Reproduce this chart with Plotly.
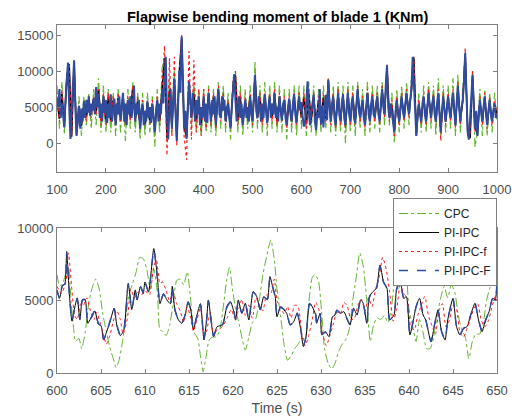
import numpy as np
import plotly.graph_objects as go

# ---------------- Top panel data (100-1000 s) ----------------
top_t = list(range(100, 1001, 5))          # 5 s grid
top_t_F = list(np.arange(100, 1000.1, 2.5))  # 2.5 s grid

top_cpc = [
    8000, 2000, 8500, 1200, 9500, 10500, 1500, 10000, 1500, 6500,
    1000, 6500, 2500, 7000, 2000, 7500, 2500, 9000, 1500, 8000,
    1500, 7500, 1500, 7000, 1000, 7500, 1500, 7000, 300, 7500,
    2000, 8500, 1500, 7000, 500, 7000, 1000, 7000, 1500, 6500,
    -500, 7500, 1500, 10500, 11500, 1500, 9000, 1500, 10000, 1500,
    9500, 13500, 2500, 1500, 8000, 2000, 8500, 1500, 7500, 1000,
    7500, 1500, 8000, 1500, 7500, 1000, 8500, 2000, 8000, 1500,
    7000, 500, 9000, 10000, 1500, 8000, 1000, 7500, 2000, 8000,
    1500, 11300, 2000, 8000, 1500, 8500, 1000, 8000, 2000, 8500,
    1500, 8000, 1500, 7500, 500, 7500, 1500, 8000, 1000, 8000,
    2000, 8000, 1000, 8500, 1500, 8000, 1000, 7500, 1500, 8000,
    2000, 9000, 1500, 8000, 1000, 8500, 1500, 8000, 0, 8500,
    1500, 8000, 1000, 8500, 2000, 7500, 1000, 8500, 1500, 8000,
    2000, 8000, 1500, 8500, 2500, 11000, 2500, 7000, 0, 7500,
    1500, 8000, 2000, 8500, 2500, 9000, 12000, 1500, 7000, 1500,
    8000, 1500, 8500, 2000, 8000, 1000, 9000, 1000, 8000, 1500,
    8000, 2000, 9000, 1000, 9500, 1500, 7500, 12000, 2000, 1000,
    10000, -500, 1500, 7500, 1000, 7500, 1000, 7000, 1500, 7000,
    3000,
]

top_pi = [
    6000, 3400, 6800, 2400, 9300, 11000, 900, 11300, 1200, 4600,
    2400, 5300, 3700, 5800, 4000, 6300, 4400, 7500, 3200, 6300,
    3000, 6600, 3200, 6000, 2700, 6300, 3400, 6600, 3000, 5800,
    3700, 7800, 3200, 5800, 2200, 5300, 2700, 5600, 3000, 5300,
    1700, 5800, 3200, 7300, 11800, 700, 7300, 2200, 8800, 500,
    9800, 14600, 2200, 800, 8400, 3700, 6800, 3200, 5800, 2700,
    6300, 3000, 6800, 3200, 6300, 2700, 7300, 3700, 6300, 3200,
    5300, 2200, 7800, 9400, 3200, 6300, 2700, 5800, 3700, 6300,
    3200, 9300, 3700, 6300, 3200, 6600, 3000, 6300, 3700, 6800,
    3200, 6300, 3400, 5800, 2700, 6000, 3200, 6600, 3000, 6300,
    3700, 6300, 2700, 6800, 3200, 6300, 3000, 6000, 3200, 6300,
    3400, 8600, 3200, 6300, 2700, 6800, 3200, 6600, 2700, 6800,
    3200, 6300, 3000, 7300, 3700, 5800, 2700, 6800, 3200, 6300,
    3700, 6300, 3200, 7300, 4200, 10600, 3700, 5300, 1700, 5800,
    3200, 6300, 3700, 6800, 4200, 7300, 11800, 1200, 5300, 3200,
    6300, 3200, 6800, 3700, 6300, 3200, 6800, 1700, 6300, 3200,
    6300, 3700, 6800, 2700, 7800, 3200, 5800, 12300, 1700, 700,
    9300, 2200, 1200, 5800, 3200, 6300, 2700, 5800, 3200, 5300,
    4000,
]

top_pi_f = [
    6500, 3000, 7500, 2500, 9000, 11000, 1000, 11000, 1500, 5000,
    2500, 6000, 3000, 6500, 3500, 6500, 4000, 7500, 2500, 7000,
    2500, 7000, 3000, 6500, 2500, 7000, 3000, 6500, 2500, 6500,
    3000, 8000, 3000, 6500, 2000, 6000, 2500, 6000, 2500, 6000,
    1500, 6500, 2500, 8000, 13500, -1700, 11800, 1000, 12000, -300,
    9500, 15000, 1000, -2300, 12800, 500, 11500, 1500, 7500, 1000,
    7500, 2000, 7500, 2500, 7000, 2000, 8000, 3000, 7000, 2500,
    6000, 2000, 8500, 10000, 2500, 7000, 2500, 6500, 3000, 7000,
    2500, 9000, 3000, 7000, 2500, 7000, 2500, 7000, 3000, 7500,
    2500, 7000, 3000, 6500, 2000, 6500, 2500, 7000, 2500, 7000,
    3000, 7000, 2000, 7500, 2500, 7000, 2500, 6500, 2500, 7000,
    3000, 9000, 2500, 7000, 2000, 7500, 2500, 7000, 2000, 7500,
    2500, 7000, 2500, 8000, 3000, 6500, 2000, 7500, 2500, 7000,
    3000, 7000, 2500, 8000, 3500, 11000, 3000, 6000, 1000, 6500,
    2500, 7000, 3000, 7500, 3500, 8000, 12000, 1000, 6000, 2500,
    7000, 2500, 7500, 3000, 7000, 2500, 7500, 300, 7000, 2500,
    7000, 3000, 7500, 2000, 8500, 2500, 6500, 13200, 1000, 1000,
    10000, 1500, 1500, 6500, 2500, 7000, 2000, 6500, 2500, 6000,
    4000,
]

top_pi_F = [
    6200, 4800, 7500, 3500, 5500, 4000, 2200, 6000, 9000, 11200, 5000, 600, 4500, 8000, 11500, 5000, 1000, 3500, 5200, 2000,
    4800, 3000, 5800, 3500, 6000, 4200, 6500, 3800, 5500, 4500, 6200, 4000, 7800, 5000, 6800, 3500, 5500, 3000, 6500, 4200,
    6000, 2800, 5500, 3500, 6800, 3000, 5000, 6200, 2500, 5500, 4000, 6500, 3200, 5000, 7000, 3000, 5500, 2500, 6000, 4000,
    6500, 3500, 5000, 8000, 3000, 5500, 4000, 6000, 2000, 4500, 5500, 2500, 4500, 3000, 5800, 3500, 5000, 2800, 5500, 3500,
    1500, 4500, 6000, 3000, 5500, 4000, 7500, 5500, 9000, 12000, 4000, 500, 5000, 7500, 2000, 6000, 9000, 4000, 300, 5000,
    10000, 7000, 14800, 9000, 2000, 4500, 600, 5000, 8600, 6000, 3500, 7000, 4500, 3000, 6000, 4000, 6500, 2500, 5000, 3500,
    6500, 3000, 5500, 2800, 7000, 4500, 3000, 6000, 4000, 6500, 2500, 5500, 7500, 4000, 3500, 6500, 4500, 6000, 3000, 5000,
    5500, 3500, 2000, 5000, 8000, 9600, 6000, 3000, 4500, 6500, 3500, 5500, 2500, 5000, 6000, 3500, 5000, 3000, 6500, 4000,
    3000, 6000, 9500, 4500, 3500, 6500, 4500, 3000, 5500, 3500, 6800, 4000, 2800, 5000, 6500, 3500, 5500, 4000, 7000, 3500,
    5000, 3000, 6500, 4500, 3200, 5500, 6000, 3500, 2500, 5000, 6200, 4000, 3000, 5500, 6800, 4000, 2800, 5000, 6500, 4500,
    5700, 3700, 2300, 3000, 6300, 8600, 4400, 2500, 4300, 5500, 6700, 3000, 1800, 4300, 3500, 7500, 2600, 5200, 2200, 5200,
    6700, 3200, 8800, 5000, 3000, 5500, 6500, 3500, 2500, 5000, 7000, 4000, 3000, 5500, 6800, 3500, 2500, 5000, 7000, 4000,
    3000, 5500, 6500, 3500, 2800, 5500, 7500, 4500, 3500, 5000, 6000, 3500, 2500, 5000, 7000, 4000, 3000, 5500, 6500, 4000,
    3500, 5500, 6500, 4000, 3000, 5500, 7500, 5000, 4000, 8000, 10800, 5000, 3500, 5500, 4000, 2500, 1500, 4500, 6000, 4000,
    3000, 5000, 6500, 4500, 3500, 5500, 7000, 5000, 4000, 6000, 7500, 12000, 8000, 3000, 1000, 4000, 5500, 4000, 3000, 5500,
    6500, 4000, 3000, 5000, 7000, 5000, 3500, 5500, 6500, 4000, 3000, 5500, 7000, 4000, 1500, 4500, 6500, 4500, 3000, 5000,
    6500, 4500, 3500, 5500, 7000, 4500, 2500, 5500, 8000, 5000, 3000, 5000, 6000, 8500, 12500, 7000, 1500, 500, 4000, 6500,
    9500, 5000, 2000, 4500, 1000, 4000, 6000, 4500, 3000, 5000, 6500, 4000, 2500, 4500, 6000, 4000, 3000, 4500, 5500, 3500,
    4000,
]

# ---------------- Bottom panel data (600-650 s) ----------------
zoom_t_cpc = [
    600.0, 600.3, 600.7, 601.0, 601.3, 601.6, 601.9, 602.1, 602.5, 602.8,
    603.2, 603.6, 604.0, 604.4, 604.8, 605.2, 605.6, 606.0, 606.4, 606.7,
    607.0, 607.4, 607.8, 608.2, 608.6, 609.0, 609.4, 609.8, 610.2, 610.6,
    611.0, 611.4, 611.7, 612.0, 612.4, 612.8, 613.2, 613.6, 614.0, 614.4,
    614.8, 615.2, 615.6, 616.0, 616.3, 616.6, 616.9, 617.3, 617.7, 618.1,
    618.5, 618.9, 619.3, 619.6, 619.9, 620.3, 620.7, 621.1, 621.4, 621.8,
    622.2, 622.6, 623.0, 623.4, 623.8, 624.3, 624.7, 625.0, 625.4, 625.8,
    626.2, 626.6, 627.0, 627.4, 627.8, 628.2, 628.6, 629.0, 629.3, 629.7,
    630.1, 630.4, 630.8, 631.2, 631.6, 632.0, 632.4, 632.8, 633.2, 633.6,
    634.0, 634.4, 634.8, 635.2, 635.6, 636.0, 636.4, 636.8, 637.2, 637.6,
    638.0, 638.4, 638.8, 639.2, 639.6, 640.0, 640.4, 640.8, 641.2, 641.6,
    642.0, 642.4, 642.8, 643.2, 643.6, 644.0, 644.4, 644.8, 645.2, 645.6,
    646.0, 646.4, 646.8, 647.2, 647.6, 648.0, 648.4, 648.8, 649.2, 649.6,
    650.0,
]
zoom_cpc = [
    6800, 6000, 6300, 6900, 7300, 5000, 3000, 2200, 2400, 1700,
    2800, 4800, 5900, 6500, 5800, 4100, 2900, 1800, 1000, 400,
    800, 2000, 3800, 5500, 6200, 7000, 8000, 7900, 7200, 5800,
    7200, 5600, 3000, 2900, 2600, 3300, 4800, 6400, 6500, 6100,
    7000, 5000, 2800, 2400, 1200, 100, 1000, 2300, 2500, 2500,
    3000, 4600, 6500, 7300, 6000, 4400, 3400, 2200, 1600, 2500,
    3500, 3800, 5100, 6800, 8000, 9200, 7800, 5800, 4000, 2000,
    900, 1200, 1700, 2000, 2400, 2400, 4800, 6600, 6800, 6400,
    4000, 1700, 700, 300, 700, 1500, 2000, 2300, 3000, 5000,
    6600, 8300, 7400, 5000, 2200, 3400, 3800, 3700, 4000, 3500,
    4500, 6400, 5800, 6800, 7200, 4400, 3300, 2200, 3700, 2800,
    1700, 1700, 2500, 4000, 5200, 6000, 5200, 6100, 5600, 4000,
    3000, 2500, 1000, 2200, 2700, 2700, 3300, 5000, 5900, 6800,
    7200,
]

zoom_t_pi = [
    600.0, 600.3, 600.6, 600.9, 601.1, 601.4, 601.7, 602.0, 602.3, 602.6,
    602.9, 603.2, 603.5, 604.0, 604.3, 604.7, 605.0, 605.3, 605.6, 606.0,
    606.5, 606.8, 607.2, 607.6, 608.1, 608.5, 608.9, 609.1, 609.5, 609.8,
    610.0, 610.4, 611.0, 611.4, 611.7, 612.1, 612.5, 612.9, 613.1, 613.4,
    613.8, 614.2, 614.6, 614.9, 615.2, 615.5, 615.9, 616.3, 616.7, 617.0,
    617.2, 617.6, 617.8, 618.2, 618.8, 619.3, 619.7, 620.1, 620.3, 620.6,
    621.0, 621.4, 621.8, 622.3, 622.7, 623.1, 623.5, 623.9, 624.2, 624.5,
    624.8, 625.0, 625.4, 625.8, 626.1, 626.5, 626.9, 627.3, 627.7, 628.0,
    628.3, 628.7, 629.0, 629.4, 629.5, 629.9, 630.1, 630.5, 630.9, 631.3,
    631.6, 631.8, 632.2, 632.6, 633.0, 633.3, 633.7, 634.1, 634.5, 634.8,
    635.2, 635.5, 635.9, 636.3, 636.7, 637.1, 637.5, 637.8, 638.3, 638.6,
    639.0, 639.4, 639.7, 640.1, 640.5, 640.8, 641.2, 641.6, 641.9, 642.5,
    642.9, 643.3, 643.7, 644.1, 644.4, 645.0, 645.4, 645.8, 646.2, 646.6,
    647.0, 647.5, 647.9, 648.3, 648.7, 649.1, 649.5, 649.8, 650.0,
]
zoom_pi = [
    5700, 5200, 6000, 6200, 8400, 5500, 3600, 4500, 5200, 3700,
    5100, 5100, 3450, 4000, 4300, 3400, 3300, 2300, 2800, 3500,
    4500, 3300, 2600, 3000, 6200, 4400, 5750, 5050, 6000, 5500,
    6300, 5600, 8600, 6670, 4800, 5500, 5050, 4800, 6000, 4370,
    3680, 3450, 4140, 4940, 4370, 3000, 4000, 4800, 2300, 3680,
    5060, 3200, 2530, 3220, 3330, 4600, 4940, 4250, 3680, 5060,
    4140, 4830, 3680, 5630, 5290, 4370, 5290, 5060, 6670, 5980,
    5290, 3900, 4600, 4370, 4140, 3330, 3560, 4140, 3000, 1840,
    2530, 4830, 4600, 4020, 3450, 4140, 2640, 2870, 2530, 3900,
    4020, 4370, 4140, 4250, 3680, 3330, 4480, 4020, 5060, 4830,
    3450, 5290, 5630, 5860, 7470, 6320, 5860, 3680, 4020, 5860,
    6320, 5170, 5290, 2640, 3680, 4600, 5170, 4020, 3680, 2180,
    3330, 4370, 2870, 2300, 3680, 5170, 3220, 2640, 3100, 3220,
    4020, 4830, 3680, 2870, 3680, 4250, 5170, 5060, 6670,
]
zoom_pi_F = [
    5750, 5150, 6050, 6150, 8300, 5550, 3650, 4450, 5150, 3750,
    5050, 5050, 3500, 3950, 4350, 3450, 3250, 2350, 2750, 3550,
    4450, 3350, 2650, 3050, 6150, 4450, 5700, 5100, 5950, 5550,
    6250, 5650, 8500, 6600, 4850, 5450, 5100, 4850, 5950, 4400,
    3700, 3500, 4100, 4900, 4400, 3050, 3950, 4750, 2350, 3650,
    5000, 3250, 2550, 3250, 3350, 4550, 4900, 4300, 3700, 5000,
    4150, 4800, 3700, 5600, 5300, 4400, 5250, 5100, 6600, 5950,
    5250, 3950, 4550, 4400, 4150, 3350, 3550, 4150, 3050, 1900,
    2550, 4800, 4600, 4050, 3500, 4100, 2700, 2850, 2550, 3850,
    4050, 4350, 4150, 4200, 3700, 3350, 4450, 4050, 5050, 4800,
    3500, 5250, 5600, 5850, 7400, 6300, 5850, 3700, 4050, 5800,
    6300, 5200, 5250, 2700, 3650, 4550, 5150, 4050, 3700, 2200,
    3350, 4350, 2900, 2350, 3650, 5150, 3250, 2700, 3100, 3250,
    4000, 4800, 3700, 2900, 3650, 4250, 5150, 5050, 6600,
]

zoom_t_pif = [
    600.0, 600.5, 601.0, 601.3, 601.7, 602.0, 602.3, 602.7, 603.0, 603.4,
    603.8, 604.2, 604.5, 604.9, 605.3, 605.6, 606.0, 606.4, 606.8, 607.2,
    607.5, 608.0, 608.4, 608.8, 609.2, 609.6, 610.0, 610.5, 611.0, 611.3,
    611.7, 612.0, 612.4, 612.8, 613.2, 613.6, 614.0, 614.4, 614.8, 615.2,
    615.5, 615.9, 616.3, 616.7, 617.0, 617.4, 617.8, 618.2, 618.6, 619.0,
    619.4, 619.8, 620.2, 620.6, 621.0, 621.4, 621.8, 622.2, 622.6, 623.0,
    623.4, 623.8, 624.3, 624.7, 625.0, 625.4, 625.8, 626.2, 626.6, 627.0,
    627.4, 627.8, 628.2, 628.6, 629.0, 629.4, 629.8, 630.2, 630.6, 631.0,
    631.4, 631.8, 632.2, 632.6, 633.0, 633.4, 633.8, 634.2, 634.6, 635.0,
    635.4, 635.8, 636.2, 636.6, 637.0, 637.4, 637.8, 638.2, 638.6, 639.0,
    639.4, 639.8, 640.2, 640.6, 641.0, 641.4, 641.8, 642.2, 642.6, 643.0,
    643.4, 643.8, 644.2, 644.6, 645.0, 645.4, 645.8, 646.2, 646.6, 647.0,
    647.4, 647.8, 648.2, 648.6, 649.0, 649.4, 649.8, 650.0,
]
zoom_pif = [
    6000, 5500, 6300, 8300, 5700, 4000, 3700, 4800, 4700, 5200,
    4300, 3700, 4200, 3500, 2600, 2000, 2600, 3600, 4300, 3700,
    2700, 3800, 5800, 5200, 5600, 5400, 5700, 5400, 7400, 7800,
    6200, 6300, 5700, 5000, 5600, 4800, 4300, 3500, 4600, 3800,
    2900, 3700, 4500, 2600, 2900, 4200, 2600, 3000, 3100, 3400,
    3900, 4400, 3800, 4300, 5100, 4000, 4700, 3800, 5200, 4700,
    4300, 5400, 5500, 6500, 5000, 4600, 4100, 4600, 3800, 4700,
    4600, 2800, 1900, 2600, 3700, 4900, 4300, 2700, 1900, 2600,
    3400, 4200, 4100, 4900, 4600, 3700, 3800, 4700, 5100, 4300,
    5200, 4600, 5800, 6600, 8000, 7200, 5600, 3600, 4400, 6100,
    5500, 5200, 3200, 3000, 4000, 4700, 5300, 4000, 3300, 2700,
    4300, 4800, 3200, 3700, 4700, 4400, 2800, 2500, 3100, 3800,
    4500, 4800, 3700, 3200, 3600, 4500, 5300, 5000,
]

series_names = ["CPC", "PI-IPC", "PI-IPC-f", "PI-IPC-F"]
top_ticks_x = [100, 200, 300, 400, 500, 600, 700, 800, 900, 1000]
top_ticks_y = [0, 5000, 10000, 15000]
bot_ticks_x = [600, 605, 610, 615, 620, 625, 630, 635, 640, 645, 650]
bot_ticks_y = [0, 5000, 10000]

GREEN = "#62b32e"
BLACK = "#000000"
RED = "#ff1a1a"
BLUE = "#2f4c9e"

fig = go.Figure()

# top panel
fig.add_trace(go.Scatter(x=top_t, y=top_cpc, mode="lines", name=series_names[0],
                         line=dict(color=GREEN, width=1.2, dash="dashdot"),
                         xaxis="x", yaxis="y", showlegend=False))
fig.add_trace(go.Scatter(x=top_t, y=top_pi, mode="lines", name=series_names[1],
                         line=dict(color=BLACK, width=1.5),
                         xaxis="x", yaxis="y", showlegend=False))
fig.add_trace(go.Scatter(x=top_t, y=top_pi_f, mode="lines", name=series_names[2],
                         line=dict(color=RED, width=1.2, dash="dot"),
                         xaxis="x", yaxis="y", showlegend=False))
fig.add_trace(go.Scatter(x=top_t_F, y=top_pi_F, mode="lines", name=series_names[3],
                         line=dict(color=BLUE, width=2.0),
                         xaxis="x", yaxis="y", showlegend=False))

# bottom panel
fig.add_trace(go.Scatter(x=zoom_t_cpc, y=zoom_cpc, mode="lines", name=series_names[0],
                         line=dict(color=GREEN, width=1, dash="dashdot", shape="spline", smoothing=0.6),
                         xaxis="x2", yaxis="y2"))
fig.add_trace(go.Scatter(x=zoom_t_pi, y=zoom_pi, mode="lines", name=series_names[1],
                         line=dict(color=BLACK, width=1, shape="spline", smoothing=0.6),
                         xaxis="x2", yaxis="y2"))
fig.add_trace(go.Scatter(x=zoom_t_pif, y=zoom_pif, mode="lines", name=series_names[2],
                         line=dict(color=RED, width=1, dash="dot", shape="spline", smoothing=0.6),
                         xaxis="x2", yaxis="y2"))
fig.add_trace(go.Scatter(x=zoom_t_pi, y=zoom_pi_F, mode="lines", name=series_names[3],
                         line=dict(color=BLUE, width=1.5, dash="dash", shape="spline", smoothing=0.6),
                         xaxis="x2", yaxis="y2"))

W, H = 515, 419
xd = [57 / W, 497 / W]
ax_common = dict(showgrid=False, zeroline=False, showline=True, linecolor="#808080",
                 linewidth=1, mirror="ticks", ticks="inside", ticklen=4, automargin=False,
                 tickcolor="#808080", tickformat="d",
                 tickfont=dict(size=13, color="#4d4d4d"))

fig.update_layout(
    width=W, height=H,
    margin=dict(l=0, r=0, t=0, b=0, autoexpand=False),
    paper_bgcolor="white", plot_bgcolor="white",
    font=dict(family="Liberation Sans, Arial, sans-serif", color="#262626"),
    xaxis=dict(domain=xd, anchor="y", range=[100, 1000], tickvals=top_ticks_x,
               ticklabelstandoff=5, **ax_common),
    yaxis=dict(domain=[1 - 172 / H, 1 - 25 / H], anchor="x", range=[-4000, 16400],
               tickvals=top_ticks_y, **ax_common),
    xaxis2=dict(domain=xd, anchor="y2", range=[600, 650], tickvals=bot_ticks_x,
                ticklabelstandoff=5,
                title=dict(text="Time (s)", font=dict(size=14, color="#4d4d4d"), standoff=6),
                **ax_common),
    yaxis2=dict(domain=[1 - 373.3 / H, 1 - 228.3 / H], anchor="x2", range=[0, 10000],
                tickvals=bot_ticks_y, **ax_common),
    legend=dict(x=497 / W, xanchor="right", y=1 - 198 / H, yanchor="top",
                bgcolor="white", bordercolor="#808080", borderwidth=1,
                font=dict(size=12, color="#262626"), tracegroupgap=0, itemwidth=40),
    annotations=[dict(text="<b>Flapwise bending moment of blade 1 (KNm)</b>",
                      x=277 / W, y=1 - 17 / H, xref="paper", yref="paper",
                      showarrow=False, font=dict(size=14.5, color="#000000"),
                      xanchor="center", yanchor="middle")],
)

fig.write_html("out.html")
